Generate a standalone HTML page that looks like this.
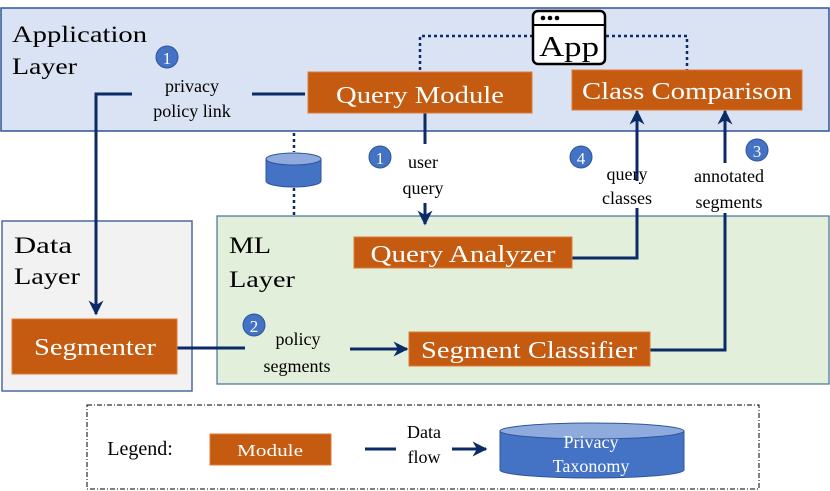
<!DOCTYPE html>
<html><head><meta charset="utf-8"><style>body{margin:0;background:#fff}svg{display:block}text{font-family:"Liberation Serif",serif}</style></head><body>
<svg width="830" height="491" viewBox="0 0 830 491" xmlns="http://www.w3.org/2000/svg">
<defs><marker id="a" viewBox="0 0 10 10" refX="9" refY="5" markerWidth="5" markerHeight="5" orient="auto-start-reverse"><path d="M0,0 L10,5 L0,10 L3,5 z" fill="#0b2a66"/></marker></defs>
<rect x="1" y="8" width="828" height="123" fill="#dae3f3" stroke="#2f5597" stroke-width="1.5"/>
<rect x="2" y="221" width="190" height="170" fill="#f2f2f2" stroke="#4a6a9a" stroke-width="1.5"/>
<rect x="217" y="216" width="612" height="168" fill="#e2efda" stroke="#41719c" stroke-width="1.2"/>
<text x="12" y="42" font-size="23" textLength="135" lengthAdjust="spacingAndGlyphs">Application</text>
<text x="12" y="74" font-size="23" textLength="65" lengthAdjust="spacingAndGlyphs">Layer</text>
<text x="14" y="253" font-size="23" textLength="58" lengthAdjust="spacingAndGlyphs">Data</text>
<text x="14" y="284" font-size="23" textLength="66" lengthAdjust="spacingAndGlyphs">Layer</text>
<text x="229" y="253" font-size="23" textLength="42" lengthAdjust="spacingAndGlyphs">ML</text>
<text x="229" y="287" font-size="23" textLength="66" lengthAdjust="spacingAndGlyphs">Layer</text>
<g stroke="#0b2a66" stroke-width="2.5" stroke-dasharray="3,3" fill="none">
<path d="M420,70 V36 H532"/><path d="M606,36 H687 V70"/>
<path d="M294,133 V152"/><path d="M294,188 V216"/>
</g>
<g stroke="#0b2a66" stroke-width="3" fill="none">
<path d="M305,94 H252"/><path d="M132,94 H96 V314" marker-end="url(#a)"/>
<path d="M425,113 V144"/><path d="M425,203 V224" marker-end="url(#a)"/>
<path d="M572,258 H637 V208"/><path d="M637,181 V111" marker-end="url(#a)"/>
<path d="M650,350 H725 V213"/><path d="M725,163 V111" marker-end="url(#a)"/>
<path d="M177,348 H245"/><path d="M350,349 H407" marker-end="url(#a)"/>
</g>
<g fill="#c55a11" stroke="#e07b39" stroke-width="1">
<rect x="308" y="72" width="224" height="41"/><rect x="572" y="70" width="230" height="40"/>
<rect x="354" y="237" width="218" height="31"/><rect x="12" y="319" width="165" height="55"/>
<rect x="409" y="332" width="241" height="34"/><rect x="210" y="434" width="121" height="31"/>
</g>
<g fill="#fff" font-size="24" text-anchor="middle">
<text x="420" y="103" textLength="168" lengthAdjust="spacingAndGlyphs">Query Module</text>
<text x="687" y="99" textLength="210" lengthAdjust="spacingAndGlyphs">Class Comparison</text>
<text x="463" y="262" textLength="185" lengthAdjust="spacingAndGlyphs">Query Analyzer</text>
<text x="95" y="355" textLength="122" lengthAdjust="spacingAndGlyphs">Segmenter</text>
<text x="529" y="358" textLength="216" lengthAdjust="spacingAndGlyphs">Segment Classifier</text>
<text x="270" y="456" font-size="17" textLength="66" lengthAdjust="spacingAndGlyphs">Module</text>
</g>
<g font-size="18" text-anchor="middle" fill="#000">
<text x="192" y="92">privacy</text><text x="192" y="117">policy link</text>
<text x="423" y="168">user</text><text x="423" y="194">query</text>
<text x="627" y="180">query</text><text x="627" y="204">classes</text>
<text x="729" y="182">annotated</text><text x="729" y="208">segments</text>
<text x="298" y="345">policy</text><text x="297" y="372">segments</text>
<text x="424" y="438">Data</text><text x="424" y="463">flow</text>
<text x="140" y="455" font-size="20">Legend:</text>
</g>
<g>
<circle cx="167" cy="57" r="11" fill="#4472c4" stroke="#2f5597"/><text x="167" y="64" fill="#fff" font-size="17" text-anchor="middle">1</text>
<circle cx="380" cy="157" r="11" fill="#4472c4" stroke="#2f5597"/><text x="380" y="164" fill="#fff" font-size="17" text-anchor="middle">1</text>
<circle cx="581" cy="157" r="11" fill="#4472c4" stroke="#2f5597"/><text x="581" y="164" fill="#fff" font-size="17" text-anchor="middle">4</text>
<circle cx="757" cy="150" r="11" fill="#4472c4" stroke="#2f5597"/><text x="757" y="157" fill="#fff" font-size="17" text-anchor="middle">3</text>
<circle cx="254" cy="325" r="11" fill="#4472c4" stroke="#2f5597"/><text x="254" y="332" fill="#fff" font-size="17" text-anchor="middle">2</text>
</g>
<g>
<path d="M266,159 V181 A27.5,6 0 0 0 321,181 V159" fill="#4472c4" stroke="#2f5597"/>
<ellipse cx="293.5" cy="159" rx="27.5" ry="6" fill="#8faadc" stroke="#2f5597"/>
<path d="M500,431 V470 A92,8 0 0 0 684,470 V431" fill="#4472c4" stroke="#2f5597"/>
<ellipse cx="592" cy="431" rx="92" ry="8" fill="#8faadc" stroke="#2f5597"/>
<text x="591" y="448" fill="#fff" font-size="18" text-anchor="middle">Privacy</text>
<text x="591" y="472" fill="#fff" font-size="18" text-anchor="middle">Taxonomy</text>
</g>
<rect x="533" y="11" width="72" height="53" rx="5" fill="#fff" stroke="#000" stroke-width="2.5"/>
<line x1="533" y1="25" x2="605" y2="25" stroke="#000" stroke-width="2"/>
<circle cx="543" cy="18" r="2.3"/><circle cx="550" cy="18" r="2.3"/><circle cx="557" cy="18" r="2.3"/>
<text x="569" y="56" font-size="28" text-anchor="middle" textLength="60" lengthAdjust="spacingAndGlyphs">App</text>
<path d="M365,449 H396" stroke="#0b2a66" stroke-width="3"/><path d="M452,449 H486" stroke="#0b2a66" stroke-width="3" marker-end="url(#a)"/>
<rect x="87" y="405" width="672" height="84" fill="none" stroke="#000" stroke-width="1" stroke-dasharray="5,2,1,2"/>
</svg>
</body></html>
